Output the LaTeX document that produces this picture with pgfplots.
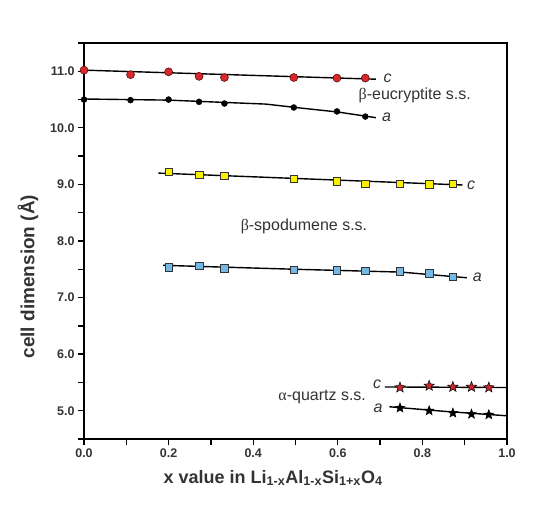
\documentclass[border=0pt]{standalone}
\usepackage{fontspec}
\setmainfont{Liberation Sans}
\newfontfamily\seriff{Liberation Serif}
\usepackage{pgfplots}
\pgfplotsset{compat=1.18}
\usetikzlibrary{plotmarks}
\definecolor{eured}{HTML}{D7282C}
\definecolor{spyel}{HTML}{F7F000}
\definecolor{spblu}{HTML}{74B9E6}
\definecolor{qred}{HTML}{C8262C}
\definecolor{txt}{HTML}{333333}
\pgfdeclareplotmark{fstar}{%
  \pgfpathmoveto{\pgfpointpolar{90}{\pgfplotmarksize}}%
  \pgfpathlineto{\pgfpointpolar{126}{0.42\pgfplotmarksize}}%
  \pgfpathlineto{\pgfpointpolar{162}{\pgfplotmarksize}}%
  \pgfpathlineto{\pgfpointpolar{198}{0.42\pgfplotmarksize}}%
  \pgfpathlineto{\pgfpointpolar{234}{\pgfplotmarksize}}%
  \pgfpathlineto{\pgfpointpolar{270}{0.42\pgfplotmarksize}}%
  \pgfpathlineto{\pgfpointpolar{306}{\pgfplotmarksize}}%
  \pgfpathlineto{\pgfpointpolar{342}{0.42\pgfplotmarksize}}%
  \pgfpathlineto{\pgfpointpolar{18}{\pgfplotmarksize}}%
  \pgfpathlineto{\pgfpointpolar{54}{0.42\pgfplotmarksize}}%
  \pgfpathclose
  \pgfusepathqfillstroke}
\begin{document}
\begin{tikzpicture}
\begin{axis}[
  name=ax,
  scale only axis, width=423pt, height=396pt,
  xmin=0, xmax=1, ymin=4.5, ymax=11.5,
  axis line style={line width=2.2pt},
  axis x line*=bottom, axis y line*=left,
  separate axis lines,
  xtick={0,0.2,0.4,0.6,0.8,1.0},
  minor xtick={0.1,0.3,0.5,0.7,0.9},
  ytick={5,6,7,8,9,10,11},
  minor ytick={4.5,5.5,6.5,7.5,8.5,9.5,10.5,11.5},
  tick align=outside,
  major tick length=6pt, minor tick length=6pt,
  tick style={line width=1.3pt, black},
  xticklabel style={/pgf/number format/.cd, fixed, fixed zerofill, precision=1},
  yticklabel style={/pgf/number format/.cd, fixed, fixed zerofill, precision=1},
  /pgf/number format/assume math mode=true,
  ticklabel style={font=\fontsize{12.5}{14}\selectfont\bfseries, text=txt},
  xlabel={x value in Li\textsubscript{1-x}Al\textsubscript{1-x}Si\textsubscript{1+x}O\textsubscript{4}},
  xlabel style={font=\fontsize{18}{20}\selectfont\bfseries, text=txt, at={(axis description cs:0.447,0)}, anchor=center, yshift=-39pt},
  ylabel={cell dimension (Å)},
  ylabel style={font=\fontsize{19}{21}\selectfont\bfseries, text=txt, at={(axis description cs:-0.1324,0.41)}, anchor=center},
  clip=false,
]
% top and right spines
\draw[line width=2.2pt] (rel axis cs:0,1) -- (rel axis cs:1,1) -- (rel axis cs:1,0);
% fit lines
\addplot[black, line width=1.4pt, no marks] coordinates {(0,11.02) (0.69,10.86)};
\addplot[black, line width=1.4pt, no marks] coordinates {(0,10.51) (0.2,10.49) (0.33,10.45) (0.43,10.42) (0.5,10.36) (0.6,10.28) (0.69,10.18)};
\addplot[black, line width=1.4pt, no marks] coordinates {(0.176,9.20) (0.895,8.99)};
\addplot[black, line width=1.4pt, no marks] coordinates {(0.187,7.57) (0.5,7.50) (0.75,7.45) (0.905,7.35)};
\addplot[black, line width=1.4pt, no marks] coordinates {(0.711,5.42) (1.0,5.41)};
\addplot[black, line width=1.4pt, no marks] coordinates {(0.722,5.07) (0.85,4.99) (1.0,4.91)};
% data
\addplot[only marks, mark=*, mark size=4pt, mark options={fill=eured, draw=black!70!red, line width=0.5pt}] coordinates {
(0,11.02) (0.11,10.94) (0.2,10.99) (0.272,10.91) (0.332,10.89) (0.496,10.89) (0.598,10.88) (0.665,10.88)};
\addplot[only marks, mark=*, mark size=3pt, mark options={fill=black, draw=black}] coordinates {
(0,10.50) (0.11,10.49) (0.2,10.50) (0.272,10.46) (0.332,10.43) (0.496,10.36) (0.598,10.29) (0.665,10.20)};
\addplot[only marks, mark=square*, mark size=3.8pt, mark options={fill=spyel, draw=black!80, line width=0.6pt}] coordinates {
(0.2,9.22) (0.272,9.17) (0.332,9.15) (0.496,9.10) (0.598,9.05) (0.665,9.01) (0.747,9.01) (0.816,9.00) (0.872,9.01)};
\addplot[only marks, mark=square*, mark size=3.8pt, mark options={fill=spblu, draw=black!80, line width=0.6pt}] coordinates {
(0.2,7.54) (0.272,7.56) (0.332,7.52) (0.496,7.49) (0.598,7.48) (0.665,7.47) (0.747,7.46) (0.816,7.43) (0.872,7.37)};
\addplot[only marks, mark=fstar, mark size=5.5pt, mark options={fill=qred, draw=black, line width=0.5pt}] coordinates {
(0.747,5.41) (0.816,5.44) (0.872,5.42) (0.916,5.42) (0.957,5.41)};
\addplot[only marks, mark=fstar, mark size=5pt, mark options={fill=black, draw=black, line width=0.5pt}] coordinates {
(0.747,5.05) (0.816,5.00) (0.872,4.96) (0.916,4.94) (0.957,4.93)};
% annotations
\begin{scope}[every node/.style={font=\fontsize{16}{18}\selectfont, text=txt}]
\node at (axis cs:0.718,10.88) {\itshape c};
\node at (axis cs:0.782,10.57) {{\seriff β}-eucryptite s.s.};
\node at (axis cs:0.715,10.19) {\itshape a};
\node at (axis cs:0.915,8.98) {\itshape c};
\node at (axis cs:0.52,8.25) {{\seriff β}-spodumene s.s.};
\node at (axis cs:0.93,7.35) {\itshape a};
\node at (axis cs:0.693,5.46) {\itshape c};
\node at (axis cs:0.563,5.24) {{\seriff α}-quartz s.s.};
\node at (axis cs:0.695,5.04) {\itshape a};
\end{scope}
\end{axis}
\pgfresetboundingbox
\path ([xshift=-84pt,yshift=-72pt]ax.south west) rectangle ([xshift=43pt,yshift=43pt]ax.north east);
\end{tikzpicture}
\end{document}
